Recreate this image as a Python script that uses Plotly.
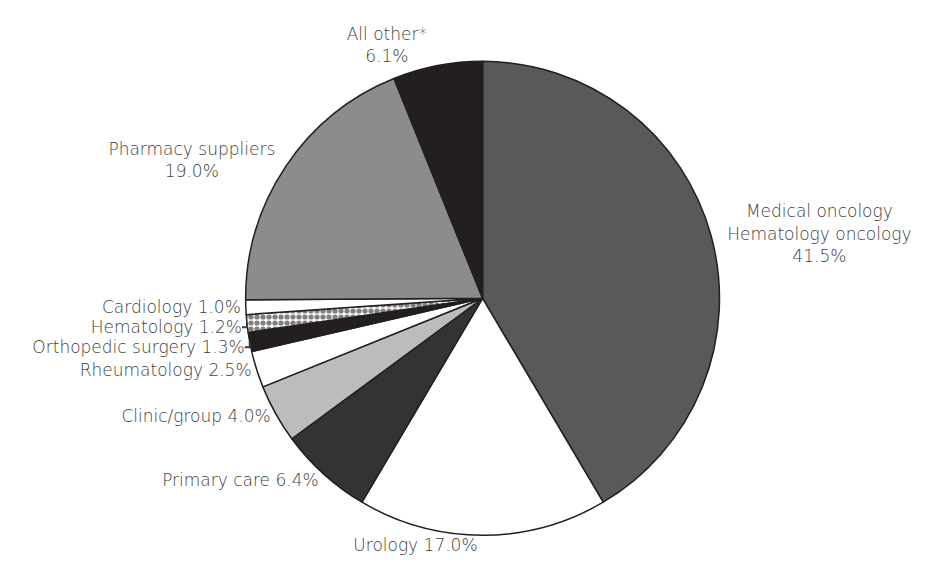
import plotly.graph_objects as go

labels = ["Medical oncology<br>Hematology oncology", "Urology", "Primary care", "Clinic/group",
          "Rheumatology", "Orthopedic surgery", "Hematology", "Cardiology",
          "Pharmacy suppliers", "All other*"]
values = [41.5, 17.0, 6.4, 4.0, 2.5, 1.3, 1.2, 1.0, 19.0, 6.1]
label_sep = ["<br>", " ", " ", " ", " ", " ", " ", " ", "<br>", "<br>"]
colors = ["#595959", "#ffffff", "#333333", "#bcbcbc", "#ffffff", "#231f20",
          "#ffffff", "#ffffff", "#8c8c8c", "#231f20"]
patterns = ["", "", "", "", "", "", ".", "", "", ""]

texts = [f"{l}{s}{v:.1f}%" for l, s, v in zip(labels, label_sep, values)]

fig = go.Figure(go.Pie(
    labels=labels, values=values, text=texts, textinfo="text",
    textposition="outside", sort=False, direction="clockwise", rotation=0,
    marker=dict(colors=colors, line=dict(color="#231f20", width=1.5),
                pattern=dict(shape=patterns, fgcolor="#000000", bgcolor="#ffffff",
                             size=6, solidity=0.6, fillmode="overlay")),
    outsidetextfont=dict(family="DejaVu Sans, Lato", size=17, color="#404040", weight=200),
    showlegend=False, hoverinfo="skip",
    domain=dict(x=[0.2514, 0.7714], y=[0.091, 0.908]),
))
fig.update_layout(width=928, height=580, margin=dict(l=0, r=0, t=0, b=0),
                  paper_bgcolor="white", plot_bgcolor="white")
fig.write_html("out.html")
